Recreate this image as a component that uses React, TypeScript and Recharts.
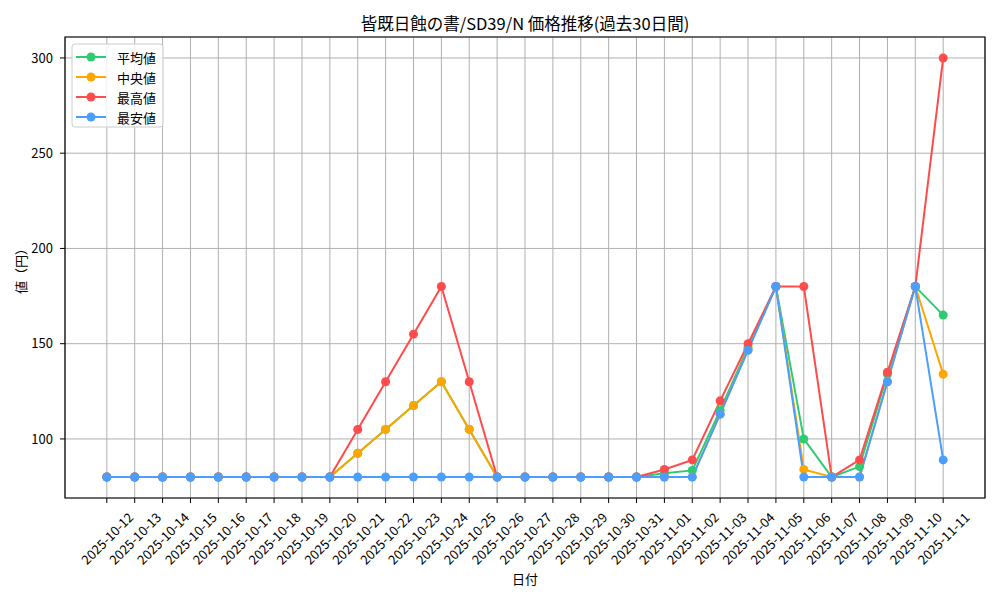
import { LineChart, Line, XAxis, YAxis, CartesianGrid, ReferenceArea } from 'recharts';

const FONT = '"Noto Sans CJK JP", "Noto Sans", sans-serif';

const dates = [
    '2025-10-12', '2025-10-13', '2025-10-14', '2025-10-15', '2025-10-16', '2025-10-17',
    '2025-10-18', '2025-10-19', '2025-10-20', '2025-10-21', '2025-10-22', '2025-10-23',
    '2025-10-24', '2025-10-25', '2025-10-26', '2025-10-27', '2025-10-28', '2025-10-29',
    '2025-10-30', '2025-10-31', '2025-11-01', '2025-11-02', '2025-11-03', '2025-11-04',
    '2025-11-05', '2025-11-06', '2025-11-07', '2025-11-08', '2025-11-09', '2025-11-10',
    '2025-11-11',
];

const meanPrices = [
    80, 80, 80, 80, 80, 80, 80, 80, 80, 92.5, 105, 117.5, 130, 105, 80, 80,
    80, 80, 80, 80, 82, 83.5, 115, 148, 180, 100, 80, 85.5, 134, 180, 165,
];
const medianPrices = [
    80, 80, 80, 80, 80, 80, 80, 80, 80, 92.5, 105, 117.5, 130, 105, 80, 80,
    80, 80, 80, 80, 80, 80, 113, 147, 180, 84, 80, 80, 130, 180, 134,
];
const maxPrices = [
    80, 80, 80, 80, 80, 80, 80, 80, 80, 105, 130, 155, 180, 130, 80, 80,
    80, 80, 80, 80, 84, 89, 120, 150, 180, 180, 80, 89, 135, 180, 300,
];
const minPrices = [
    80, 80, 80, 80, 80, 80, 80, 80, 80, 80, 80, 80, 80, 80, 80, 80,
    80, 80, 80, 80, 80, 80, 113, 146.5, 180, 80, 80, 80, 130, 180, 89,
];

const yTicks = [100, 150, 200, 250, 300];

const series = [
    { key: 'mean', name: '平均値', color: '#2ecc71' },
    { key: 'median', name: '中央値', color: '#ffa500' },
    { key: 'max', name: '最高値', color: '#ff4b4b' },
    { key: 'min', name: '最安値', color: '#4a9eff' },
];

const data = dates.map((d, i) => ({
    i,
    date: d,
    mean: meanPrices[i],
    median: medianPrices[i],
    max: maxPrices[i],
    min: minPrices[i],
}));

const DateTick = (props: any) => {
    const { x, y, payload } = props;
    const cy = y + 35;
    return (
        <text
            x={x}
            y={cy}
            transform={`rotate(-45, ${x}, ${cy})`}
            textAnchor="middle"
            dominantBaseline="central"
            fontSize={13}
            fontFamily={FONT}
            fill="#000"
        >
            {dates[payload.value]}
        </text>
    );
};

export default function App() {
    return (
        <div style={{ position: 'absolute', left: 0, top: 0, width: 1000, height: 600, background: '#fff', fontFamily: FONT }}>
            <LineChart width={1000} height={600} data={data} margin={{ top: 37, right: 15, left: 5, bottom: 42 }}>
                <CartesianGrid stroke="#b0b0b0" strokeWidth={1} />
                <XAxis
                    dataKey="i"
                    type="number"
                    domain={[-1.5, 31.5]}
                    ticks={data.map((d) => d.i)}
                    interval={0}
                    allowDataOverflow
                    height={60}
                    axisLine={false}
                    tickLine={{ stroke: '#000' }}
                    tickSize={5}
                    tickMargin={0}
                    tick={<DateTick />}
                />
                <YAxis
                    type="number"
                    domain={[69, 311]}
                    ticks={yTicks}
                    allowDataOverflow
                    width={60}
                    axisLine={false}
                    tickLine={{ stroke: '#000' }}
                    tickSize={5}
                    tickMargin={7}
                    tick={{ fontSize: 13, fill: '#000', fontFamily: FONT }}
                />
                <ReferenceArea x1={-1.5} x2={31.5} y1={69} y2={311} fill="none" stroke="#000" strokeWidth={1.2} />
                {series.map((s) => (
                    <Line
                        key={s.key}
                        dataKey={s.key}
                        name={s.name}
                        stroke={s.color}
                        strokeWidth={2}
                        dot={{ r: 4.5, fill: s.color, stroke: s.color, strokeWidth: 0 }}
                        activeDot={false}
                        isAnimationActive={false}
                    />
                ))}
            </LineChart>

            <svg width={1000} height={600} style={{ position: 'absolute', left: 0, top: 0, pointerEvents: 'none' }}>
                <text x={525} y={23} textAnchor="middle" dominantBaseline="central" fontSize={16.5} fontFamily={FONT}>
                    皆既日蝕の書/SD39/N 価格推移(過去30日間)
                </text>
                <text x={525} y={578} textAnchor="middle" dominantBaseline="central" fontSize={13} fontFamily={FONT}>
                    日付
                </text>
                <text x={20} y={268} textAnchor="middle" dominantBaseline="central" fontSize={13} fontFamily={FONT} transform="rotate(-90, 20, 268)">
                    値（円）
                </text>
                <rect x={72} y={44} width={91} height={83} rx={3} fill="rgba(255,255,255,0.8)" stroke="#cccccc" />
                {series.map((s, k) => (
                    <g key={s.key}>
                        <line x1={76} x2={106} y1={57 + k * 20} y2={57 + k * 20} stroke={s.color} strokeWidth={2} />
                        <circle cx={91} cy={57 + k * 20} r={4.5} fill={s.color} />
                        <text x={117} y={57 + k * 20} dominantBaseline="central" fontSize={13} fontFamily={FONT}>
                            {s.name}
                        </text>
                    </g>
                ))}
            </svg>
        </div>
    );
}
